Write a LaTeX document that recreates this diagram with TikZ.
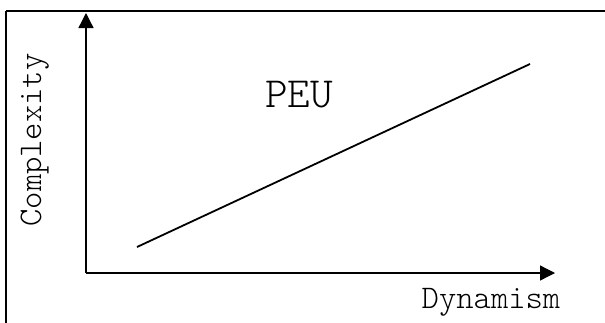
\documentclass[tikz,border=0pt]{standalone}
\usepackage{fontspec}
\setmonofont{Latin Modern Mono Light}
\usetikzlibrary{arrows.meta}
\tikzset{
  frame/.style={line width=2pt},
  axis/.style={line width=1.3pt,-{Triangle[length=15pt,width=15pt]}},
  trend/.style={line width=1.8pt},
  lbl/.style={font=\ttfamily\fontsize{33}{33}\selectfont, inner sep=0pt},
  big/.style={font=\ttfamily\fontsize{43}{43}\selectfont, inner sep=0pt}
}
\begin{document}
\begin{tikzpicture}[x=1pt,y=-1pt]
\useasboundingbox (0,0) rectangle (605,322);
\clip (0,0) rectangle (605,322);
\draw[frame] (6,11) -- (6,340);
\draw[frame] (6,11) -- (620,11);
\coordinate (origin) at (86,273);
\coordinate (ytop) at (86,13);
\coordinate (xend) at (555,273);
\coordinate (lo) at (137,247);
\coordinate (hi) at (530,64);
\draw[axis] (origin) -- (ytop);
\draw[axis] (origin) -- (xend);
\draw[trend] (lo) -- (hi);
\node[big, anchor=base] (peu) at (299,107) {PEU};
\node[lbl, anchor=base] (dyn) at (491,308) {Dynamism};
\node[lbl, anchor=base, rotate=90] (cpx) at (41,140) {Complexity};
\end{tikzpicture}
\end{document}
